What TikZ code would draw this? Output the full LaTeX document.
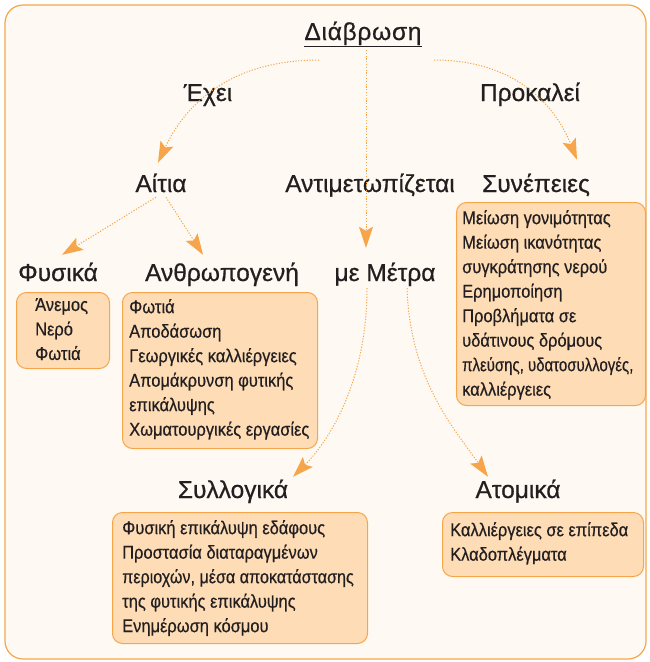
\documentclass[tikz,border=0pt]{standalone}
\usepackage{fontspec}
\setmainfont{Liberation Sans}[FakeBold=0.6]
\newfontfamily\itemfont{Liberation Sans}[FakeBold=0.5,FakeStretch=0.89]
\usetikzlibrary{arrows.meta,calc}
\definecolor{bgc}{HTML}{FEFAF3}
\definecolor{orng}{HTML}{F7A54A}
\definecolor{boxc}{HTML}{FDDCB6}
\definecolor{txt}{HTML}{231F20}
\begin{document}
\begin{tikzpicture}[x=1pt,y=-1pt,
  head/.style={font=\fontsize{24.5}{28}\selectfont, text=txt, inner sep=0pt, text height=17pt, text depth=5pt, anchor=base},
  boxst/.style={draw=orng, fill=boxc, rounded corners=10pt, line width=1pt, anchor=north west, inner sep=0pt},
  item/.style={font=\itemfont\fontsize{18.5}{24.5}\selectfont, text=txt, align=left, anchor=north west, inner sep=0pt},
  conn/.style={draw=orng, line width=1pt, dash pattern=on 1.2pt off 1.6pt, -{Stealth[length=21pt,width=14pt,inset=4pt,fill=orng]}}]
\useasboundingbox (0,0) rectangle (650,662);
\fill[white] (0,0) rectangle (650,662);
\draw[draw=orng, fill=bgc, line width=1.2pt, rounded corners=18pt] (5,5) rectangle (646,659);

% headings
\node[head] (dia) at (363,40) {\underline{\addfontfeature{LetterSpace=3}Διάβρωση}};
\node[head] (exei) at (208,101) {Έχει};
\node[head] (prok) at (530,101) {Προκαλεί};
\node[head] (aitia) at (161,192) {Αίτια};
\node[head] (anti) at (370,192) {Αντιμετωπίζεται};
\node[head] (syn) at (536,192) {Συνέπειες};
\node[head] (fys) at (58,281) {Φυσικά};
\node[head] (anth) at (222,281) {Ανθρωπογενή};
\node[head] (metra) at (385,281) {με Μέτρα};
\node[head] (syll) at (233,498) {Συλλογικά};
\node[head] (atom) at (518,498) {Ατομικά};

% boxes
\node[boxst, minimum width=93pt, minimum height=76pt] (b1) at (16,292) {};
\node[boxst, minimum width=195pt, minimum height=156pt] (b2) at (122,292) {};
\node[boxst, minimum width=189pt, minimum height=203pt] (b3) at (456,202) {};
\node[boxst, minimum width=255pt, minimum height=131pt] (b4) at (112,512) {};
\node[boxst, minimum width=201pt, minimum height=64pt] (b5) at (442,512) {};

\node[item] (t1) at (35,298) {Άνεμος\\Νερό\\Φωτιά};
\node[item] (t2) at (129,299) {Φωτιά\\Αποδάσωση\\Γεωργικές καλλιέργειες\\Απομάκρυνση φυτικής\\επικάλυψης\\Χωματουργικές εργασίες};
\node[item] (t3) at (462,210) {Μείωση γονιμότητας\\Μείωση ικανότητας\\συγκράτησης νερού\\Ερημοποίηση\\Προβλήματα σε\\υδάτινους δρόμους\\\scalebox{0.91}[1]{πλεύσης, υδατοσυλλογές,}\\καλλιέργειες};
\node[item] (t4) at (122,520) {Φυσική επικάλυψη εδάφους\\Προστασία διαταραγμένων\\\scalebox{0.98}[1]{περιοχών, μέσα αποκατάστασης}\\της φυτικής επικάλυψης\\Ενημέρωση κόσμου};
\node[item] (t5) at (450,522) {Καλλιέργειες σε επίπεδα\\Κλαδοπλέγματα};

% connectors
\draw[conn] ([xshift=-44pt,yshift=-20pt]dia.base) .. controls +(-89,0) and +(27,-58) .. ([xshift=-3pt,yshift=12pt]aitia.north);
\draw[conn] ([xshift=71pt,yshift=-20pt]dia.base) .. controls +(81,0) and +(-22,-55) .. ([xshift=41pt,yshift=15pt]syn.north);
\draw[conn] ([xshift=3pt,yshift=-10pt]dia.base) -- ([xshift=-19pt,yshift=16pt]metra.north);
\draw[conn] ([xshift=-5pt]aitia.south) -- ([xshift=4pt,yshift=9pt]fys.north);
\draw[conn] ([xshift=5pt]aitia.south) -- ([xshift=-19pt,yshift=9pt]anth.north);
\draw[conn] ([xshift=-18pt,yshift=-2pt]metra.south) .. controls +(0,92) and +(37,-37) .. ([xshift=60pt,yshift=4pt]syll.north);
\draw[conn] ([xshift=22pt,yshift=-2pt]metra.south) .. controls +(3,92) and +(-33,-47) .. ([xshift=-30pt,yshift=4pt]atom.north);
\end{tikzpicture}
\end{document}
